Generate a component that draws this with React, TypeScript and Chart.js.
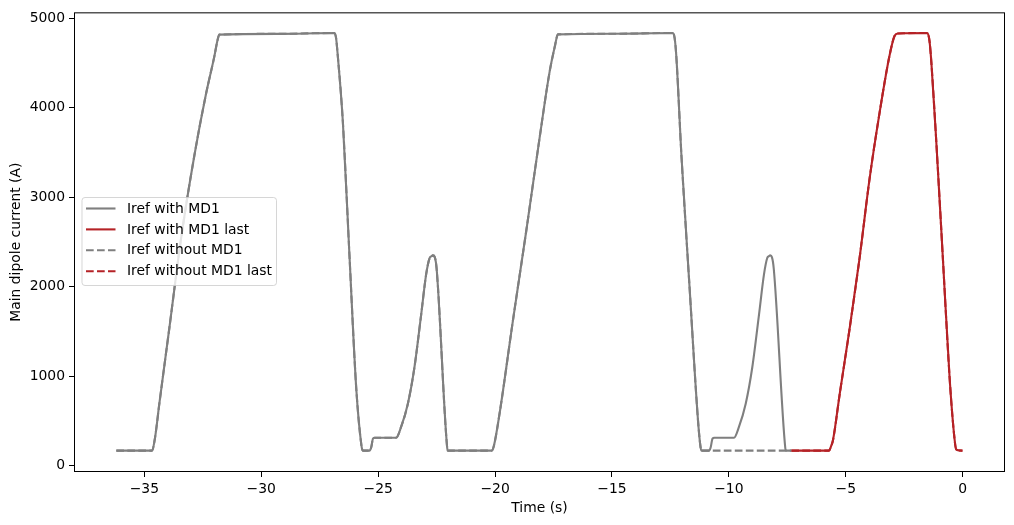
import React, { useEffect, useRef } from "react";
import { Chart, registerables } from "chart.js";

Chart.register(...registerables);

// Iref with MD1 (gray solid)
const timeWith = [
  -36.2, -34.67, -34.55, -34.36, -33.93, -33.43, -32.86, -32.36, -32.0, -31.87, -31.79,
  -29.3, -26.87, -26.8, -26.73, -26.51, -26.23, -25.94, -25.72, -25.66,
  -25.37, -25.3, -25.22, -25.15, -24.23, -24.02, -23.73, -23.45, -23.16, -22.95, -22.8,
  -22.72, -22.66, -22.58, -22.5, -22.05, -22.02,
  -20.14, -20.05, -19.81, -19.24, -18.67, -18.1, -17.67, -17.45, -17.31,
  -14.9, -12.39, -12.32, -12.25, -12.03, -11.68, -11.32, -11.22, -11.18,
  -10.85, -10.78, -10.7, -10.62, -9.78, -9.57, -9.28, -9.0, -8.71, -8.5, -8.36,
  -8.29, -8.23, -8.16, -8.08, -7.59, -7.56, -7.33,
];
const currentWith = [
  165, 165, 300, 690, 1540, 2540, 3470, 4160, 4585, 4760, 4820,
  4828, 4838, 4780, 4590, 3840, 2360, 870, 230, 165,
  165, 200, 300, 310, 310, 430, 690, 1095, 1690, 2135, 2320,
  2340, 2350, 2330, 2200, 200, 165,
  165, 220, 576, 1615, 2617, 3656, 4400, 4680, 4822,
  4830, 4838, 4780, 4585, 3470, 1986, 501, 220, 165,
  165, 200, 300, 310, 310, 430, 690, 1095, 1690, 2135, 2320,
  2340, 2350, 2330, 2200, 200, 165, 165,
];

// Iref without MD1 (gray dashed)
const timeWithout = [
  -36.2, -34.67, -34.55, -34.36, -33.93, -33.43, -32.86, -32.36, -32.0, -31.87, -31.79,
  -29.3, -26.87, -26.8, -26.73, -26.51, -26.23, -25.94, -25.72, -25.66,
  -25.37, -25.3, -25.22, -25.15, -24.23, -24.02, -23.73, -23.45, -23.16, -22.95, -22.8,
  -22.72, -22.66, -22.58, -22.5, -22.05, -22.02,
  -20.14, -20.05, -19.81, -19.24, -18.67, -18.1, -17.67, -17.45, -17.31,
  -14.9, -12.39, -12.32, -12.25, -12.03, -11.68, -11.32, -11.22, -11.18, -7.33,
];
const currentWithout = [
  165, 165, 300, 690, 1540, 2540, 3470, 4160, 4585, 4760, 4820,
  4828, 4838, 4780, 4590, 3840, 2360, 870, 230, 165,
  165, 200, 300, 310, 310, 430, 690, 1095, 1690, 2135, 2320,
  2340, 2350, 2330, 2200, 200, 165,
  165, 220, 576, 1615, 2617, 3656, 4400, 4680, 4822,
  4830, 4838, 4780, 4585, 3470, 1986, 501, 220, 165, 165,
];

// Last cycle (red)
const timeLast = [
  -7.33, -5.72, -5.62, -5.55, -5.26, -4.83, -4.41, -3.98, -3.55, -3.13, -2.91, -2.77,
  -1.51, -1.42, -1.34, -1.12, -0.84, -0.56, -0.35, -0.27, -0.01,
];
const currentLast = [
  165, 165, 220, 278, 798, 1540, 2320, 3211, 3953, 4584, 4807, 4833,
  4838, 4750, 4510, 3582, 2283, 983, 300, 175, 165,
];

const xTicks = [-35, -30, -25, -20, -15, -10, -5, 0];
const yTicks = [0, 1000, 2000, 3000, 4000, 5000];

const seriesLabels = ["Iref with MD1", "Iref with MD1 last", "Iref without MD1", "Iref without MD1 last"];
const GRAY = "#7f7f7f";
const RED = "#b52226";
const FONT = "'DejaVu Sans', sans-serif";
const FS = 13.9;

const toPts = (xs: number[], ys: number[]) => xs.map((x, i) => ({ x, y: ys[i] }));
const fmt = (v: number) => String(v).replace("-", "\u2212");

export default function App() {
  const ref = useRef<HTMLCanvasElement | null>(null);
  useEffect(() => {
    if (!ref.current) return;
    const dash = [7.7, 3.3];
    const styles = [
      { color: GRAY, dash: [] as number[] },
      { color: RED, dash: [] as number[] },
      { color: GRAY, dash },
      { color: RED, dash },
    ];
    const frame = {
      id: "frame",
      afterDraw(chart: any) {
        const { ctx, chartArea: a } = chart;
        ctx.save();
        ctx.strokeStyle = "#000";
        ctx.lineWidth = 1;
        ctx.strokeRect(a.left + 0.5, a.top + 0.5, a.right - a.left - 1, a.bottom - a.top - 1);
        // legend
        const bx = 82, by = 197.5, bw = 194.5, bh = 88;
        ctx.beginPath();
        ctx.roundRect(bx, by, bw, bh, 3);
        ctx.fillStyle = "rgba(255,255,255,0.8)";
        ctx.fill();
        ctx.strokeStyle = "rgba(204,204,204,0.8)";
        ctx.lineWidth = 1;
        ctx.stroke();
        ctx.font = `${FS}px ${FONT}`;
        ctx.textBaseline = "middle";
        ctx.textAlign = "left";
        seriesLabels.forEach((lab, i) => {
          const yy = 208.5 + i * 20.9;
          ctx.beginPath();
          ctx.setLineDash(styles[i].dash);
          ctx.strokeStyle = styles[i].color;
          ctx.lineWidth = 2.1;
          ctx.moveTo(86, yy);
          ctx.lineTo(115.5, yy);
          ctx.stroke();
          ctx.setLineDash([]);
          ctx.fillStyle = "#000";
          ctx.fillText(lab, 127, yy + 0.5);
        });
        ctx.restore();
      },
    };
    const datasets = [
      toPts(timeWith, currentWith),
      toPts(timeLast, currentLast),
      toPts(timeWithout, currentWithout),
      toPts(timeLast, currentLast),
    ].map((data, i) => ({
      label: seriesLabels[i],
      data,
      borderColor: styles[i].color,
      borderDash: styles[i].dash,
      borderWidth: 2.1,
      pointRadius: 0,
      fill: false,
      cubicInterpolationMode: "monotone" as const,
    }));
    const chart = new Chart(ref.current, {
      type: "line",
      data: { datasets },
      plugins: [frame],
      options: {
        animation: false,
        responsive: false,
        devicePixelRatio: 1,
        layout: { padding: { top: 10, right: 9, left: 0, bottom: 0 } },
        plugins: { legend: { display: false }, tooltip: { enabled: false } },
        scales: {
          x: {
            type: "linear",
            min: -38.01,
            max: 1.81,
            afterBuildTicks: (s: any) => { s.ticks = xTicks.map((v) => ({ value: v })); },
            afterFit: (s: any) => { s.height = 53; },
            grid: { display: true, drawOnChartArea: false, drawTicks: true, tickLength: 5, tickColor: "#000", tickWidth: 1 },
            border: { display: false },
            ticks: { autoSkip: false, maxRotation: 0, padding: 4, color: "#000", font: { family: FONT, size: FS }, callback: (v: any) => fmt(v) },
            title: { display: true, text: "Time (s)", color: "#000", font: { family: FONT, size: FS }, padding: { top: 4, bottom: 8 } },
          },
          y: {
            type: "linear",
            min: -74,
            max: 5069,
            afterBuildTicks: (s: any) => { s.ticks = yTicks.map((v) => ({ value: v })); },
            afterFit: (s: any) => { s.width = 74; },
            grid: { display: true, drawOnChartArea: false, drawTicks: true, tickLength: 5, tickColor: "#000", tickWidth: 1 },
            border: { display: false },
            ticks: { autoSkip: false, padding: 4, color: "#000", font: { family: FONT, size: FS }, callback: (v: any) => fmt(v) },
            title: { display: true, text: "Main dipole current (A)", color: "#000", font: { family: FONT, size: FS }, padding: { top: 8, bottom: 4 } },
          },
        },
      },
    });
    return () => chart.destroy();
  }, []);
  return (
    <div style={{ position: "absolute", left: 0, top: 0, width: 1014, height: 525, background: "#fff" }}>
      <canvas ref={ref} width={1014} height={525} />
    </div>
  );
}
